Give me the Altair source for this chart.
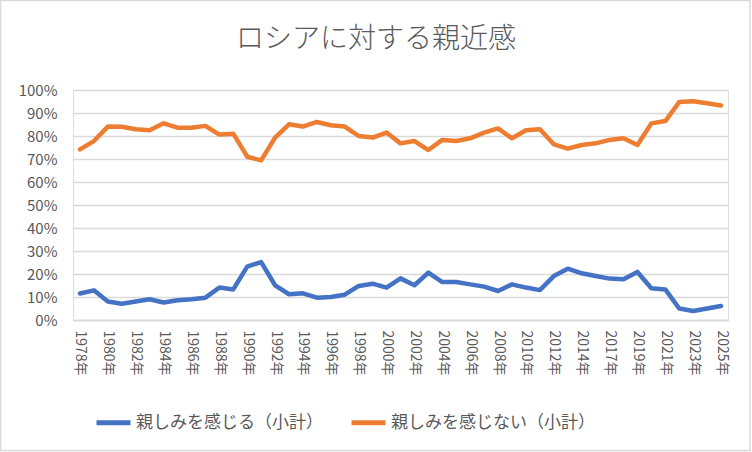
import altair as alt
import pandas as pd

# Survey rounds (one label shown on every other round)
years = [
    "1978年", "1979年", "1980年", "1981年", "1982年", "1983年", "1984年", "1985年",
    "1986年", "1987年", "1988年", "1989年", "1990年", "1991年", "1992年", "1993年",
    "1994年", "1995年", "1996年", "1997年", "1998年", "1999年", "2000年", "2001年",
    "2002年", "2003年", "2004年", "2005年", "2006年", "2007年", "2008年", "2009年",
    "2010年", "2011年", "2012年", "2013年", "2014年", "2016年", "2017年", "2018年",
    "2019年", "2020年", "2021年", "2022年", "2023年", "2024年", "2025年",
]
tick_years = years[0:37:2] + years[38::2]

# Share of respondents (%)
feel_close = [
    11.5, 12.9, 8.0, 7.1, 8.0, 9.0, 7.6, 8.6, 9.0, 9.7, 14.1, 13.3, 23.2, 25.2,
    15.1, 11.2, 11.6, 9.7, 10.0, 11.0, 14.8, 15.8, 14.1, 18.1, 15.1, 20.6, 16.5,
    16.5, 15.5, 14.5, 12.6, 15.5, 14.1, 13.0, 19.1, 22.3, 20.3, 19.1, 18.0, 17.7,
    20.9, 13.8, 13.3, 5.0, 3.9, 5.0, 6.1,
]
not_close = [
    74.2, 77.8, 84.1, 84.0, 82.9, 82.5, 85.5, 83.6, 83.6, 84.4, 80.6, 81.0, 71.0,
    69.4, 79.3, 85.1, 84.1, 86.1, 84.7, 84.1, 80.0, 79.3, 81.5, 76.8, 77.8, 73.9,
    78.3, 77.8, 79.0, 81.5, 83.3, 79.0, 82.5, 82.9, 76.4, 74.5, 76.1, 76.8, 78.3,
    79.0, 76.1, 85.5, 86.5, 94.8, 95.1, 94.2, 93.3,
]

series_names = ["親しみを感じる（小計）", "親しみを感じない（小計）"]
series_colors = ["#4472C4", "#ED7D31"]
chart_title = "ロシアに対する親近感"

df = pd.DataFrame(
    [{"year": y, "series": series_names[0], "value": v / 100} for y, v in zip(years, feel_close)]
    + [{"year": y, "series": series_names[1], "value": v / 100} for y, v in zip(years, not_close)]
)

FONT = "Noto Sans CJK JP"
GREY_TEXT = "#595959"
GRID = "#D9D9D9"

lines = alt.Chart(df).mark_line(
    strokeWidth=4.5, strokeCap="round", strokeJoin="round"
).encode(
    x=alt.X(
        "year:N",
        sort=years,
        scale=alt.Scale(type="point", padding=0.5),
        axis=alt.Axis(
            title=None,
            values=tick_years,
            labelAngle=90,
            labelFontSize=14,
            labelColor=GREY_TEXT,
            labelFont=FONT,
            labelPadding=10,
            ticks=False,
            domain=True,
            domainColor=GRID,
            domainWidth=1.3,
            grid=False,
            labelOverlap=False,
        ),
    ),
    y=alt.Y(
        "value:Q",
        scale=alt.Scale(domain=[0, 1], nice=False),
        axis=alt.Axis(
            title=None,
            format=".0%",
            values=[i / 10 for i in range(11)],
            labelFontSize=15,
            labelColor=GREY_TEXT,
            labelFont=FONT,
            labelPadding=16,
            ticks=False,
            domain=False,
            gridColor=GRID,
            gridWidth=1.3,
        ),
    ),
    color=alt.Color(
        "series:N",
        sort=series_names,
        scale=alt.Scale(domain=series_names, range=series_colors),
        legend=alt.Legend(
            title=None,
            orient="none",
            direction="horizontal",
            legendX=21,
            legendY=313,
            symbolType="stroke",
            symbolSize=1156,
            symbolStrokeWidth=5,
            labelFontSize=17,
            labelFont=FONT,
            labelColor=GREY_TEXT,
            labelLimit=0,
            labelOffset=3,
            columnPadding=18,
        ),
    ),
)

# Outer chart frame
frame = alt.Chart(pd.DataFrame({"k": [0]})).mark_rect(
    fill=None, stroke=GRID, strokeWidth=1.5
).encode(
    x=alt.value(-72.5), x2=alt.value(677), y=alt.value(-89.5), y2=alt.value(360.5)
)

# Chart heading, centred on the full canvas
heading = alt.Chart(pd.DataFrame({"t": [chart_title]})).mark_text(
    font=FONT, fontSize=28, fontWeight=300, color=GREY_TEXT,
    align="center", baseline="middle",
).encode(
    text="t:N", x=alt.value(303), y=alt.value(-50)
)

chart = alt.layer(frame, lines, heading).properties(
    width=655,
    height=230,
    autosize=alt.AutoSizeParams(type="none"),
    padding={"left": 73, "top": 90, "right": 24, "bottom": 132},
).configure_view(stroke=None).configure(background="white")

chart.save("out.html", embed_options={"renderer": "svg", "actions": False})
